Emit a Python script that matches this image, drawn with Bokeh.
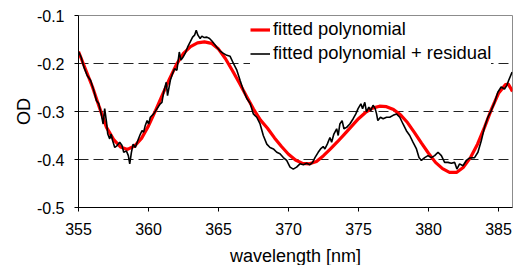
from bokeh.plotting import figure
from bokeh.models import Range1d, FixedTicker, Legend, LegendItem
from bokeh.embed import file_html
from bokeh.resources import INLINE

# ---- data ----
fit_x = [355.0, 355.5, 356.0, 356.5, 357.0, 357.5, 358.0, 358.5, 359.0, 359.5,
         360.0, 360.5, 361.0, 361.5, 362.0, 362.5, 363.0, 363.5, 364.0, 364.5,
         365.0, 365.5, 366.0, 366.5, 367.0, 367.5, 368.0, 368.5, 369.0, 369.5,
         370.0, 370.5, 371.0, 371.5, 372.0, 372.5, 373.0, 373.5, 374.0, 374.5,
         375.0, 375.5, 376.0, 376.5, 377.0, 377.5, 378.0, 378.5, 379.0, 379.5,
         380.0, 380.5, 381.0, 381.5, 382.0, 382.5, 383.0, 383.5, 384.0, 384.5,
         385.0, 385.5, 385.7, 386.0]
fit_y = [-0.175, -0.212, -0.249, -0.292, -0.333, -0.358, -0.374, -0.379, -0.372, -0.356,
         -0.330, -0.298, -0.265, -0.232, -0.202, -0.179, -0.165, -0.157, -0.155, -0.158,
         -0.170, -0.190, -0.215, -0.241, -0.268, -0.295, -0.318, -0.335, -0.355, -0.373,
         -0.389, -0.401, -0.408, -0.409, -0.404, -0.392, -0.378, -0.363, -0.347, -0.331,
         -0.315, -0.302, -0.293, -0.289, -0.290, -0.296, -0.307, -0.323, -0.344, -0.366,
         -0.387, -0.406, -0.419, -0.427, -0.427, -0.416, -0.396, -0.368, -0.333, -0.295,
         -0.262, -0.244, -0.243, -0.258]

res_x = [355.02, 355.19, 355.38, 355.62, 355.86, 356.09, 356.28, 356.45, 356.62, 356.76,
         356.87, 357.00, 357.09, 357.23, 357.33, 357.44, 357.59, 357.76, 357.94, 358.11,
         358.23, 358.42, 358.56, 358.66, 358.78, 358.90, 359.06, 359.23, 359.42, 359.54,
         359.65, 359.77, 359.90, 360.01, 360.13, 360.37, 360.61, 360.84, 360.96, 361.08,
         361.27, 361.36, 361.56, 361.72, 361.86, 362.03, 362.20, 362.32, 362.46, 362.62,
         362.79, 362.98, 363.15, 363.29, 363.41, 363.53, 363.69, 363.81, 363.98, 364.17,
         364.36, 364.53, 364.69, 364.88, 365.12, 365.35, 365.60, 365.83, 366.07, 366.31,
         366.54, 366.78, 367.02, 367.26, 367.49, 367.73, 367.97, 368.20, 368.45, 368.68,
         368.92, 369.16, 369.39, 369.63, 369.87, 370.11, 370.34, 370.58, 370.82, 371.06,
         371.30, 371.53, 371.72, 371.89, 372.12, 372.29, 372.48, 372.60, 372.77, 372.96,
         373.08, 373.24, 373.44, 373.55, 373.67, 373.83, 373.96, 374.15, 374.38, 374.62,
         374.81, 374.97, 375.17, 375.29, 375.45, 375.57, 375.74, 375.88, 376.04, 376.19,
         376.29, 376.38, 376.57, 376.76, 377.00, 377.23, 377.47, 377.71, 377.95, 378.18,
         378.42, 378.66, 378.89, 379.14, 379.32, 379.49, 379.73, 379.96, 380.20, 380.44,
         380.68, 380.92, 381.15, 381.39, 381.63, 381.87, 382.03, 382.22, 382.46, 382.70,
         382.93, 383.29, 383.53, 383.77, 384.00, 384.24, 384.48, 384.72, 384.95, 385.19,
         385.43, 385.59, 385.73, 385.97]
res_y = [-0.176, -0.187, -0.207, -0.225, -0.235, -0.256, -0.277, -0.284, -0.305, -0.326,
         -0.294, -0.322, -0.347, -0.357, -0.347, -0.361, -0.375, -0.371, -0.364, -0.371,
         -0.385, -0.382, -0.392, -0.409, -0.385, -0.368, -0.375, -0.361, -0.347, -0.340,
         -0.343, -0.329, -0.319, -0.326, -0.312, -0.305, -0.294, -0.284, -0.281, -0.260,
         -0.239, -0.267, -0.235, -0.221, -0.211, -0.214, -0.176, -0.193, -0.187, -0.179,
         -0.166, -0.155, -0.145, -0.141, -0.131, -0.141, -0.148, -0.143, -0.146, -0.145,
         -0.148, -0.153, -0.159, -0.166, -0.174, -0.179, -0.183, -0.185, -0.200, -0.214,
         -0.235, -0.256, -0.273, -0.283, -0.305, -0.312, -0.326, -0.350, -0.368, -0.375,
         -0.378, -0.385, -0.388, -0.396, -0.402, -0.416, -0.420, -0.416, -0.409, -0.411,
         -0.408, -0.411, -0.406, -0.396, -0.385, -0.378, -0.373, -0.378, -0.368, -0.354,
         -0.364, -0.347, -0.336, -0.350, -0.326, -0.319, -0.336, -0.333, -0.326, -0.315,
         -0.305, -0.294, -0.284, -0.294, -0.281, -0.301, -0.291, -0.298, -0.287, -0.294,
         -0.305, -0.319, -0.312, -0.315, -0.312, -0.312, -0.308, -0.305, -0.312, -0.326,
         -0.340, -0.350, -0.364, -0.378, -0.396, -0.402, -0.396, -0.392, -0.396, -0.392,
         -0.385, -0.392, -0.406, -0.406, -0.408, -0.406, -0.420, -0.409, -0.413, -0.402,
         -0.397, -0.396, -0.385, -0.361, -0.333, -0.312, -0.298, -0.281, -0.260, -0.249,
         -0.253, -0.246, -0.235, -0.218]

x_ticks = [355, 360, 365, 370, 375, 380, 385]
y_ticks = [-0.5, -0.4, -0.3, -0.2, -0.1]
y_tick_labels = ["-0.5", "-0.4", "-0.3", "-0.2", "-0.1"]
grid_ticks = [-0.4, -0.3, -0.2]
series_names = ["fitted polynomial", "fitted polynomial + residual"]
x_label = "wavelength [nm]"
y_label = "OD"

FONT = "Liberation Sans"

p = figure(frame_width=434, frame_height=192, output_backend="svg", toolbar_location=None,
           x_range=Range1d(355, 386), y_range=Range1d(-0.5, -0.1),
           min_border_left=78, min_border_right=1, min_border_top=15, min_border_bottom=48)
p.background_fill_color = "white"
p.border_fill_color = "white"
p.outline_line_color = "#8c8c8c"
p.outline_line_width = 1

p.xgrid.visible = False
p.ygrid.ticker = FixedTicker(ticks=grid_ticks)
p.ygrid.grid_line_color = "#222222"
p.ygrid.grid_line_dash = "10 5"
p.ygrid.grid_line_width = 1

for ax in (p.xaxis[0], p.yaxis[0]):
    ax.axis_line_color = "black"
    ax.major_tick_line_color = "black"
    ax.major_tick_in = 0
    ax.major_tick_out = 4
    ax.minor_tick_line_color = None
    ax.major_label_text_font = FONT
    ax.major_label_text_font_size = "16px"
    ax.major_label_text_color = "black"
    ax.axis_label_text_font = FONT
    ax.axis_label_text_font_size = "18px"
    ax.axis_label_text_font_style = "normal"
    ax.axis_label_text_color = "black"

p.xaxis.ticker = FixedTicker(ticks=x_ticks)
p.xaxis.axis_label = x_label
p.xaxis.major_label_standoff = 11
p.xaxis.axis_label_standoff = 8

p.yaxis.ticker = FixedTicker(ticks=y_ticks)
p.yaxis.major_label_overrides = {t: s for t, s in zip(y_ticks, y_tick_labels)}
p.yaxis.axis_label = y_label
p.yaxis.major_label_standoff = 10
p.yaxis.axis_label_standoff = 0

r1 = p.line(fit_x, fit_y, line_color="#ff0000", line_width=3.2)
r2 = p.line(res_x, res_y, line_color="black", line_width=1.6)

legend = Legend(items=[LegendItem(label=series_names[0], renderers=[r1]),
                       LegendItem(label=series_names[1], renderers=[r2])],
                location=(172, 143))
legend.label_text_font = FONT
legend.label_text_font_size = "18.4px"
legend.label_text_color = "black"
legend.glyph_width = 20
legend.glyph_height = 21
legend.label_height = 21
legend.label_standoff = 3
legend.padding = 2
legend.spacing = 2
legend.margin = 0
legend.border_line_color = None
legend.background_fill_color = "white"
legend.background_fill_alpha = 1.0
p.add_layout(legend, "center")

open("out.html", "w").write(file_html(p, INLINE))
